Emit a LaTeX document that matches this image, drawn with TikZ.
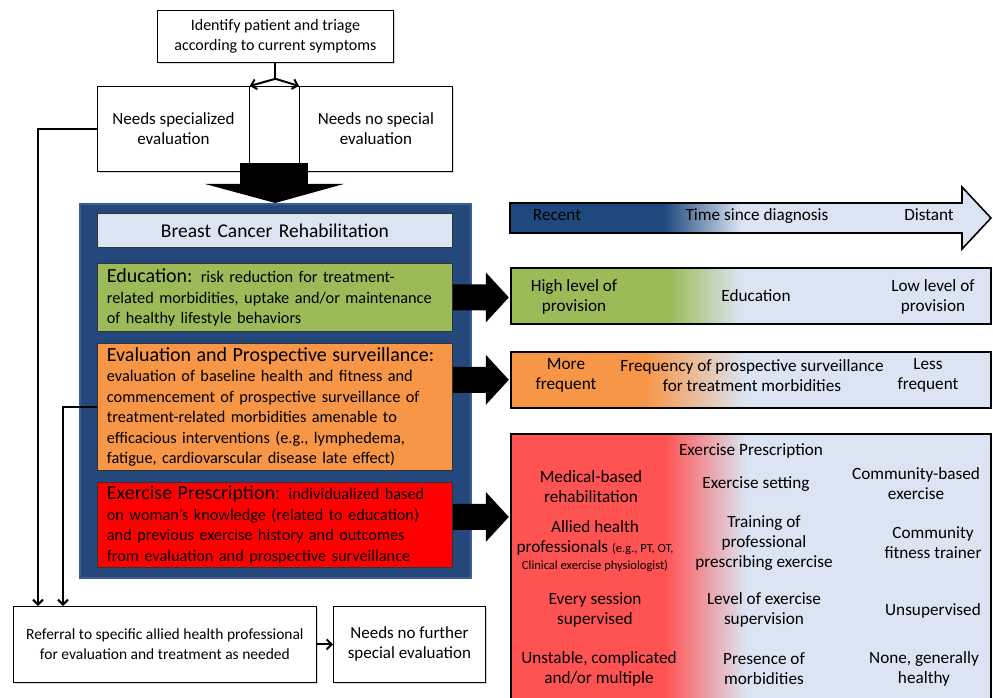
\documentclass[tikz,border=0pt]{standalone}
\usepackage{fontspec}
\setmainfont{Carlito}
\usetikzlibrary{positioning,calc,arrows.meta,shadows}

\definecolor{darkblue}{RGB}{31,73,125}
\definecolor{paleblue}{RGB}{218,228,242}
\definecolor{framebl}{RGB}{36,72,123}
\definecolor{framebd}{RGB}{62,95,145}
\definecolor{educgreen}{RGB}{155,187,89}
\definecolor{evalorange}{RGB}{247,150,70}
\definecolor{exred}{RGB}{255,0,0}
\definecolor{barred}{RGB}{255,82,82}

\newcommand{\fsz}[2]{\fontsize{#1}{#2}\selectfont}

% colour runs of the four bars on the right
\pgfdeclarehorizontalshading{timeshade}{100bp}{color(0bp)=(darkblue); color(41bp)=(darkblue); color(49bp)=(paleblue); color(100bp)=(paleblue)}
\pgfdeclarehorizontalshading{educshade}{100bp}{color(0bp)=(educgreen); color(41.5bp)=(educgreen); color(49bp)=(paleblue); color(100bp)=(paleblue)}
\pgfdeclarehorizontalshading{freqshade}{100bp}{color(0bp)=(evalorange); color(39bp)=(evalorange); color(49.5bp)=(paleblue); color(100bp)=(paleblue)}
\pgfdeclarehorizontalshading{exshade}{100bp}{color(0bp)=(barred); color(41bp)=(barred); color(49.5bp)=(paleblue); color(100bp)=(paleblue)}

% fat black arrow, #1 = start point
\newcommand{\fatarrow}[1]{%
  \fill #1 ++(0,-13) -- ++(33,0) -- ++(0,-12) -- ++(23,25) -- ++(-23,25)
       -- ++(0,-12) -- ++(-33,0) -- cycle;}

\begin{document}
\begin{tikzpicture}[%
      x=1pt, y=-1pt,
      box/.style={draw, line width=0.8pt, fill=white, align=center, inner sep=0pt,
        anchor=north west, font=\fsz{17}{20},
        drop shadow={shadow xshift=1.5pt, shadow yshift=-1.5pt, opacity=0.3}},
      stage/.style={draw=black!80, line width=0.8pt, anchor=north west, inner sep=0pt,
        minimum width=355, text width=336, align=left, font=\fsz{16.3}{20.5}},
      bar/.style={draw, line width=1.6pt, anchor=north west, minimum width=480},
      conn/.style={line width=2pt, -{Straight Barb[length=5pt,width=10pt]}},
      lbl/.style={align=center, inner sep=0pt, font=\fsz{17.2}{20}},
      one/.style={text height=12pt, text depth=4pt},
      ]
      \useasboundingbox (0,0) rectangle (993,697);
      \clip (0,0) rectangle (993,697);

      % triage at the top
      \node[box, minimum width=236, minimum height=52, font=\fsz{16}{20}] (triage) at (157,10)
        {Identify patient and triage\\according to current symptoms};
      \node[box, minimum width=152, minimum height=85] (needsspec) at (97,86)
        {Needs specialized\\evaluation};
      \node[box, minimum width=50, minimum height=85] (middlebox) at (249,86) {};
      \node[box, minimum width=153, minimum height=85] (nospec) at (299,86)
        {Needs no special\\evaluation};

      \draw[line width=2pt] (triage.south) -- ++(0,16) coordinate (forkpt);
      \draw[conn] (forkpt) -- (needsspec.north east);
      \draw[conn] (forkpt) -- (nospec.north west);

      % rehabilitation block
      \node[draw=framebd, fill=framebl, line width=1.5pt, anchor=north west,
        minimum width=391, minimum height=374] (rehab) at (79,203) {};
      \fill ($(middlebox.south)+(-34,-9)$) rectangle ++(68,21);
      \fill ($(middlebox.south)+(-70,12)$) -- ++(140,0) -- (rehab.north) -- cycle;

      \node[stage, fill=paleblue, minimum height=34, align=center, font=\fsz{19.5}{20}]
        (title) at (97,213) {Breast Cancer Rehabilitation};
      \node[stage, fill=educgreen, minimum height=68] (educ) at (97,263)
        {{\fsz{20}{20.5}Education:} risk reduction for treatment-\\
         related morbidities, uptake and/or maintenance\\
         of healthy lifestyle behaviors};
      \node[stage, fill=evalorange, minimum height=127] (evalsurv) at (97,343)
        {{\fsz{20}{20.5}Evaluation and Prospective surveillance:}\\
         evaluation of baseline health and fitness and\\
         commencement of prospective surveillance of\\
         treatment-related morbidities amenable to\\
         efficacious interventions (e.g., lymphedema,\\
         fatigue, cardiovarscular disease late effect)};
      \node[stage, fill=exred, minimum height=85] (exrx) at (97,482)
        {{\fsz{20}{20.5}Exercise Prescription:} individualized based\\
         on woman's knowledge (related to education)\\
         and previous exercise history and outcomes\\
         from evaluation and prospective surveillance};

      % referral at the bottom
      \node[box, minimum width=303, minimum height=76, font=\fsz{15.5}{20}] (referral) at (13,606)
        {Referral to specific allied health professional\\for evaluation and treatment as needed};
      \node[box, minimum width=152, minimum height=76] (nofurther) at (333,606)
        {Needs no further\\special evaluation};

      \draw[conn] (needsspec.west) -| ($(referral.north west)+(25,0)$);
      \draw[conn] (evalsurv.west) -| ($(referral.north west)+(50,0)$);
      \draw[conn] (referral) -- (nofurther);

      % bars on the right
      \shade[shading=timeshade, draw, line width=1.6pt]
        (510,203) -- (962,203) -- (962,187) -- (991,218) -- (962,249) -- (962,233)
        -- (510,233) -- cycle;
      \node[bar, shading=educshade, minimum height=56] (educbar) at (510,267) {};
      \node[bar, shading=freqshade, minimum height=56] (freqbar) at (510,351) {};
      \node[bar, shading=exshade, minimum height=290] (exbar) at (510,433) {};

      \fatarrow{(educ.east)}
      \fatarrow{(evalsurv.east |- freqbar.west)}
      \fatarrow{($(exrx.east)+(0,-8)$)}

      \node[lbl, one] (recent) at (557,216) {Recent};
      \node[lbl, one] (timesince) at (757,216) {Time since diagnosis};
      \node[lbl, one] (distant) at (929,216) {Distant};

      \node[lbl] (highprov) at (574,297) {High level of\\provision};
      \node[lbl, one] (educlbl) at (756,297) {Education};
      \node[lbl] (lowprov) at (933,297) {Low level of\\provision};

      \node[lbl] (morefreq) at (566,375) {More\\frequent};
      \node[lbl] (freqlbl) at (752,376) {Frequency of prospective surveillance\\for treatment morbidities};
      \node[lbl] (lessfreq) at (928,375) {Less\\frequent};

      \node[lbl, one] (exlbl) at (751,451) {Exercise Prescription};
      \node[lbl] (medical) at (591,487) {Medical-based\\rehabilitation};
      \node[lbl, one] (setting) at (756,484) {Exercise setting};
      \node[lbl] (community) at (916,484) {Community-based\\exercise};
      \node[lbl] (allied) at (595,546) {Allied health\\professionals {\fsz{12.5}{18}(e.g., PT, OT,}\\[-3pt]
        {\fsz{12.5}{18}Clinical exercise physiologist)}};
      \node[lbl] (training) at (764,543) {Training of\\professional\\prescribing exercise};
      \node[lbl] (trainer) at (933,543) {Community\\fitness trainer};
      \node[lbl] (everysess) at (595,610) {Every session\\supervised};
      \node[lbl] (supervision) at (764,610) {Level of exercise\\supervision};
      \node[lbl, one] (unsup) at (933,611) {Unsupervised};
      \node[lbl] (unstable) at (599,669) {Unstable, complicated\\and/or multiple};
      \node[lbl] (presence) at (764,669) {Presence of\\morbidities};
      \node[lbl] (healthy) at (924,669) {None, generally\\healthy};
      \end{tikzpicture}
\end{document}
